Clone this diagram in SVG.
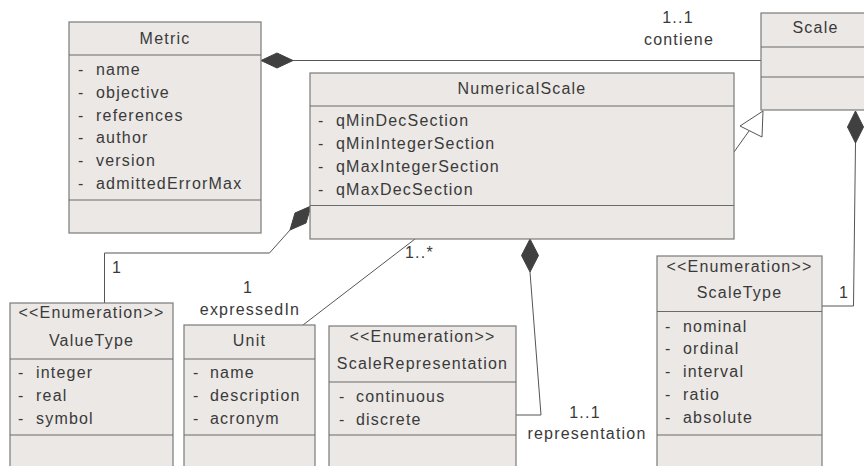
<svg xmlns="http://www.w3.org/2000/svg" width="864" height="466" viewBox="0 0 864 466">
<style>
text{font-family:"Liberation Sans",Arial,sans-serif;font-size:16px;letter-spacing:1.2px;fill:#3a3a3a}
.c{text-anchor:middle}
.box{fill:#ebe8e5;stroke:#7a7a7a;stroke-width:1.2}
.div{stroke:#6a6a6a;stroke-width:1.2}
.ln{fill:none;stroke:#555;stroke-width:1}
.dia{fill:#404040;stroke:#404040;stroke-width:1}
.tri{fill:#fff;stroke:#555;stroke-width:1}
</style>
<rect width="864" height="466" fill="#fff"/>
<g id="connectors">
<polygon class="dia" points="261,60.5 277,53 293,60.5 277,68"/>
<line class="ln" x1="293" y1="60.5" x2="761" y2="60.5"/>
<text class="c" x="678" y="23">1..1</text>
<text class="c" x="679" y="45">contiene</text>
<line class="ln" x1="734" y1="152" x2="749" y2="131"/>
<polygon class="tri" points="740,126 763,111 762,137"/>
<polygon class="dia" points="855.5,111 863.5,127 855.5,143 847.5,127"/>
<polyline class="ln" points="855.5,143 853.5,306 822,306"/>
<text class="c" x="844" y="298">1</text>
<polygon class="dia" points="311,206 306,223 290,230 295,213"/>
<polyline class="ln" points="290,230 269.5,253 104.5,253 104.5,303"/>
<text class="c" x="117" y="273">1</text>
<line class="ln" x1="415" y1="239" x2="303" y2="325"/>
<text x="405" y="258">1..*</text>
<text class="c" x="248" y="293">1</text>
<text class="c" x="250" y="315">expressedIn</text>
<polygon class="dia" points="530,239 538.5,255.5 530,272 521.5,255.5"/>
<polyline class="ln" points="530,272 541,415 516,415"/>
<text class="c" x="585" y="418">1..1</text>
<text class="c" x="587" y="439">representation</text>
</g>
<g id="Metric">
<rect class="box" x="69" y="22" width="192" height="211"/>
<line class="div" x1="69" y1="55" x2="261" y2="55"/>
<line class="div" x1="69" y1="200" x2="261" y2="200"/>
<text class="c" x="165" y="44">Metric</text>
<text x="78" y="75">-</text><text x="96" y="75">name</text>
<text x="78" y="97.8">-</text><text x="96" y="97.8">objective</text>
<text x="78" y="120.6">-</text><text x="96" y="120.6">references</text>
<text x="78" y="143.4">-</text><text x="96" y="143.4">author</text>
<text x="78" y="166.2">-</text><text x="96" y="166.2">version</text>
<text x="78" y="189">-</text><text x="96" y="189">admittedErrorMax</text>
</g>
<g id="NumericalScale">
<rect class="box" x="310" y="73" width="424" height="166"/>
<line class="div" x1="310" y1="106" x2="734" y2="106"/>
<line class="div" x1="310" y1="205.5" x2="734" y2="205.5"/>
<text class="c" x="522" y="94">NumericalScale</text>
<text x="318" y="126">-</text><text x="336" y="126">qMinDecSection</text>
<text x="318" y="149">-</text><text x="336" y="149">qMinIntegerSection</text>
<text x="318" y="172">-</text><text x="336" y="172">qMaxIntegerSection</text>
<text x="318" y="195">-</text><text x="336" y="195">qMaxDecSection</text>
</g>
<g id="Scale">
<rect class="box" x="761" y="13" width="110" height="97"/>
<line class="div" x1="761" y1="47" x2="871" y2="47"/>
<line class="div" x1="761" y1="77" x2="871" y2="77"/>
<text class="c" x="815.5" y="33">Scale</text>
</g>
<g id="ValueType">
<rect class="box" x="10" y="303" width="163" height="170"/>
<line class="div" x1="10" y1="359" x2="173" y2="359"/>
<line class="div" x1="10" y1="435" x2="173" y2="435"/>
<text class="c" x="91.5" y="318">&lt;&lt;Enumeration&gt;&gt;</text>
<text class="c" x="91.5" y="346">ValueType</text>
<text x="18" y="378">-</text><text x="36" y="378">integer</text>
<text x="18" y="401">-</text><text x="36" y="401">real</text>
<text x="18" y="423.5">-</text><text x="36" y="423.5">symbol</text>
</g>
<g id="Unit">
<rect class="box" x="184" y="325" width="131" height="148"/>
<line class="div" x1="184" y1="359" x2="315" y2="359"/>
<line class="div" x1="184" y1="435" x2="315" y2="435"/>
<text class="c" x="249.5" y="346">Unit</text>
<text x="193" y="378">-</text><text x="210" y="378">name</text>
<text x="193" y="401">-</text><text x="210" y="401">description</text>
<text x="193" y="423.5">-</text><text x="210" y="423.5">acronym</text>
</g>
<g id="ScaleRepresentation">
<rect class="box" x="329" y="326" width="187" height="147"/>
<line class="div" x1="329" y1="382" x2="516" y2="382"/>
<line class="div" x1="329" y1="435" x2="516" y2="435"/>
<text class="c" x="422.5" y="342">&lt;&lt;Enumeration&gt;&gt;</text>
<text class="c" x="422.5" y="368.5">ScaleRepresentation</text>
<text x="339" y="401.5">-</text><text x="356" y="401.5">continuous</text>
<text x="339" y="424.5">-</text><text x="356" y="424.5">discrete</text>
</g>
<g id="ScaleType">
<rect class="box" x="657" y="256" width="165" height="217"/>
<line class="div" x1="657" y1="311.5" x2="822" y2="311.5"/>
<line class="div" x1="657" y1="435" x2="822" y2="435"/>
<text class="c" x="739.5" y="272">&lt;&lt;Enumeration&gt;&gt;</text>
<text class="c" x="739.5" y="298">ScaleType</text>
<text x="665" y="331.5">-</text><text x="683" y="331.5">nominal</text>
<text x="665" y="354">-</text><text x="683" y="354">ordinal</text>
<text x="665" y="377">-</text><text x="683" y="377">interval</text>
<text x="665" y="399.5">-</text><text x="683" y="399.5">ratio</text>
<text x="665" y="422.5">-</text><text x="683" y="422.5">absolute</text>
</g>
</svg>
